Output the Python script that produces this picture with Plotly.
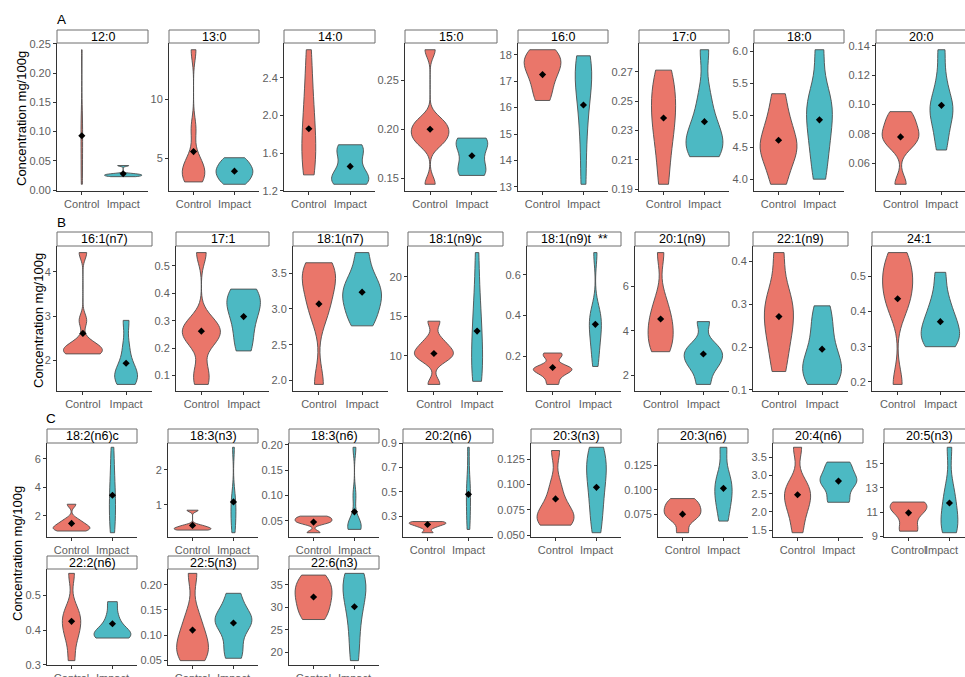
import numpy as np
import plotly.graph_objects as go

# ---------------- data ----------------
groups = ["Control", "Impact"]

names_a = ["12:0", "13:0", "14:0", "15:0", "16:0", "17:0", "18:0", "20:0"]
names_b = ["16:1(n7)", "17:1", "18:1(n7)", "18:1(n9)c", "18:1(n9)t  **", "20:1(n9)", "22:1(n9)", "24:1"]
names_c = ["18:2(n6)c", "18:3(n3)", "18:3(n6)", "20:2(n6)", "20:3(n3)", "20:3(n6)", "20:4(n6)", "20:5(n3)"]
names_d = ["22:2(n6)", "22:5(n3)", "22:6(n3)"]

# row A
ctrl_12_0 = [0.01, 0.03, 0.06, 0.09, 0.11, 0.12, 0.24]
imp_12_0 = [0.023, 0.024, 0.025, 0.026, 0.027, 0.028, 0.042]
ctrl_13_0 = [3.0, 3.3, 3.6, 4.0, 4.4, 5.0, 7.5, 14.2]
imp_13_0 = [2.8, 3.2, 3.6, 3.9, 4.2, 4.6, 5.05]
ctrl_14_0 = [1.37, 1.45, 1.6, 1.75, 1.9, 2.1, 2.35, 2.7]
imp_14_0 = [1.27, 1.29, 1.32, 1.36, 1.45, 1.6, 1.65, 1.69]
ctrl_15_0 = [0.144, 0.185, 0.19, 0.195, 0.2, 0.205, 0.21, 0.281]
imp_15_0 = [0.153, 0.156, 0.162, 0.175, 0.185, 0.189, 0.191]
ctrl_16_0 = [16.27, 16.7, 17.1, 17.4, 17.6, 17.8, 18.0, 18.19]
imp_16_0 = [13.1, 14.8, 16.0, 16.8, 17.3, 17.6, 17.96]
ctrl_17_0 = [0.1934, 0.215, 0.23, 0.24, 0.25, 0.26, 0.2711]
imp_17_0 = [0.2122, 0.215, 0.22, 0.225, 0.23, 0.24, 0.255, 0.285]
ctrl_18_0 = [3.92, 4.2, 4.4, 4.5, 4.6, 4.8, 5.0, 5.34]
imp_18_0 = [4.0, 4.4, 4.7, 4.95, 5.2, 5.3, 6.03]
ctrl_20_0 = [0.0458, 0.072, 0.076, 0.08, 0.084, 0.09, 0.0952]
imp_20_0 = [0.0691, 0.08, 0.09, 0.095, 0.1, 0.105, 0.118, 0.1373]

# row B
ctrl_16_1 = [2.15, 2.17, 2.2, 2.25, 2.3, 2.4, 2.9, 4.43]
imp_16_1 = [1.463, 1.55, 1.65, 1.75, 1.9, 2.3, 2.904]
ctrl_17_1 = [0.068, 0.12, 0.22, 0.24, 0.26, 0.28, 0.3, 0.548]
imp_17_1 = [0.19, 0.24, 0.3, 0.34, 0.37, 0.39, 0.415]
ctrl_18_1n7 = [1.945, 2.9, 3.1, 3.3, 3.45, 3.55, 3.646]
imp_18_1n7 = [2.764, 2.9, 3.05, 3.15, 3.25, 3.35, 3.5, 3.788]
ctrl_18_1n9c = [6.4, 9.5, 10.0, 10.5, 11.0, 12.0, 14.38]
imp_18_1n9c = [6.79, 7.5, 9.0, 11.0, 13.0, 15.0, 18.0, 23.04]
ctrl_18_1n9t = [0.062, 0.1, 0.125, 0.135, 0.14, 0.15, 0.2, 0.216]
imp_18_1n9t = [0.15, 0.22, 0.28, 0.32, 0.36, 0.4, 0.42, 0.709]
ctrl_20_1 = [3.07, 3.3, 3.7, 4.1, 4.4, 4.8, 5.4, 7.51]
imp_20_1 = [1.604, 2.3, 2.6, 2.9, 3.1, 3.4, 4.418]
ctrl_22_1 = [0.143, 0.2, 0.24, 0.27, 0.3, 0.33, 0.42]
imp_22_1 = [0.113, 0.13, 0.145, 0.16, 0.18, 0.22, 0.26, 0.296]
ctrl_24_1 = [0.193, 0.4, 0.44, 0.47, 0.5, 0.53, 0.567]
imp_24_1 = [0.3, 0.31, 0.33, 0.35, 0.37, 0.4, 0.44, 0.511]

# row C
ctrl_18_2n6c = [0.93, 1.0, 1.1, 1.2, 1.35, 1.5, 1.75, 2.81]
imp_18_2n6c = [0.81, 1.5, 2.5, 3.2, 4.0, 5.3, 6.81]
ctrl_18_3n3 = [0.283, 0.3, 0.33, 0.37, 0.42, 0.849]
imp_18_3n3 = [0.208, 0.5, 0.8, 1.0, 1.3, 2.64]
ctrl_18_3n6 = [0.0264, 0.045, 0.048, 0.052, 0.056, 0.0592]
imp_18_3n6 = [0.033, 0.035, 0.038, 0.042, 0.048, 0.1, 0.1954]
ctrl_20_2n6 = [0.164, 0.21, 0.23, 0.24, 0.25, 0.256]
imp_20_2n6 = [0.191, 0.3, 0.42, 0.5, 0.6, 0.867]
ctrl_20_3n3 = [0.0598, 0.062, 0.066, 0.07, 0.075, 0.085, 0.1, 0.1336]
imp_20_3n3 = [0.0523, 0.07, 0.085, 0.1, 0.11, 0.12, 0.128, 0.1368]
ctrl_20_3n6 = [0.0565, 0.07, 0.074, 0.078, 0.082, 0.087, 0.0911]
imp_20_3n6 = [0.0683, 0.085, 0.095, 0.105, 0.115, 0.1431]
ctrl_20_4n6 = [1.43, 1.9, 2.2, 2.4, 2.6, 2.8, 3.77]
imp_20_4n6 = [2.264, 2.3, 2.7, 2.8, 2.9, 3.0, 3.3, 3.364]
ctrl_20_5n3 = [9.41, 9.6, 10.8, 11.2, 11.5, 11.7, 11.83]
imp_20_5n3 = [9.28, 9.6, 10.2, 11.0, 12.0, 13.0, 16.38]

# row D
ctrl_22_2n6 = [0.312, 0.37, 0.4, 0.42, 0.44, 0.46, 0.563]
imp_22_2n6 = [0.377, 0.38, 0.385, 0.395, 0.41, 0.44, 0.4816]
ctrl_22_5n3 = [0.0493, 0.06, 0.075, 0.09, 0.11, 0.14, 0.2226]
imp_22_5n3 = [0.054, 0.08, 0.115, 0.125, 0.135, 0.15, 0.183]
ctrl_22_6n3 = [27.31, 29.0, 31.0, 32.5, 34.0, 35.5, 37.16]
imp_22_6n3 = [18.2, 24.0, 29.0, 32.5, 34.5, 36.3, 37.54]

# group means (black diamonds)
mean_ctrl_a = [0.093, 5.57, 1.86, 0.20, 17.25, 0.2385, 4.61, 0.078]
mean_imp_a = [0.028, 3.91, 1.46, 0.173, 16.1, 0.236, 4.93, 0.0995]
mean_ctrl_b = [2.61, 0.262, 3.07, 10.3, 0.145, 4.535, 0.271, 0.436]
mean_imp_b = [1.94, 0.315, 3.235, 13.13, 0.357, 2.967, 0.195, 0.371]
mean_ctrl_c = [1.465, 0.415, 0.0474, 0.232, 0.0857, 0.0753, 2.47, 10.93]
mean_imp_c = [3.44, 1.085, 0.0677, 0.48, 0.0972, 0.1015, 2.845, 11.75]
mean_ctrl_d = [0.425, 0.110, 32.31]
mean_imp_d = [0.418, 0.124, 30.15]

# y tick labels per panel
ticks_a = [["0.00", "0.05", "0.10", "0.15", "0.20", "0.25"], ["5", "10"], ["1.2", "1.6", "2.0", "2.4"],
           ["0.15", "0.20", "0.25"], ["13", "14", "15", "16", "17", "18"],
           ["0.19", "0.21", "0.23", "0.25", "0.27"], ["4.0", "4.5", "5.0", "5.5", "6.0"],
           ["0.06", "0.08", "0.10", "0.12", "0.14"]]
ticks_b = [["2", "3", "4"], ["0.1", "0.2", "0.3", "0.4", "0.5"], ["2.0", "2.5", "3.0", "3.5"],
           ["10", "15", "20"], ["0.2", "0.4", "0.6"], ["2", "4", "6"], ["0.1", "0.2", "0.3", "0.4"],
           ["0.2", "0.3", "0.4", "0.5"]]
ticks_c = [["2", "4", "6"], ["1", "2"], ["0.05", "0.10", "0.15", "0.20"], ["0.3", "0.5", "0.7", "0.9"],
           ["0.050", "0.075", "0.100", "0.125"], ["0.075", "0.100", "0.125"],
           ["1.5", "2.0", "2.5", "3.0", "3.5"], ["9", "11", "13", "15"]]
ticks_d = [["0.3", "0.4", "0.5"], ["0.05", "0.10", "0.15", "0.20"], ["20", "25", "30", "35"]]

ctrl_a = [ctrl_12_0, ctrl_13_0, ctrl_14_0, ctrl_15_0, ctrl_16_0, ctrl_17_0, ctrl_18_0, ctrl_20_0]
imp_a = [imp_12_0, imp_13_0, imp_14_0, imp_15_0, imp_16_0, imp_17_0, imp_18_0, imp_20_0]
ctrl_b = [ctrl_16_1, ctrl_17_1, ctrl_18_1n7, ctrl_18_1n9c, ctrl_18_1n9t, ctrl_20_1, ctrl_22_1, ctrl_24_1]
imp_b = [imp_16_1, imp_17_1, imp_18_1n7, imp_18_1n9c, imp_18_1n9t, imp_20_1, imp_22_1, imp_24_1]
ctrl_c = [ctrl_18_2n6c, ctrl_18_3n3, ctrl_18_3n6, ctrl_20_2n6, ctrl_20_3n3, ctrl_20_3n6, ctrl_20_4n6, ctrl_20_5n3]
imp_c = [imp_18_2n6c, imp_18_3n3, imp_18_3n6, imp_20_2n6, imp_20_3n3, imp_20_3n6, imp_20_4n6, imp_20_5n3]
ctrl_d = [ctrl_22_2n6, ctrl_22_5n3, ctrl_22_6n3]
imp_d = [imp_22_2n6, imp_22_5n3, imp_22_6n3]

# ---------------- layout geometry (pixels) ----------------
W, H = 965, 677
rows_px = {  # strip top, strip bottom, x-axis line
    "A": (30, 43, 191), "B": (232, 246, 391), "C": (429, 443, 537), "D": (556, 569, 665)}
cols_px = {
    "A": [(57, 148), (169, 259), (284, 375), (405, 497), (518, 608), (639, 729), (754, 844), (876, 966)],
    "B": [(57, 152), (176, 269), (293, 388), (408, 503), (527, 621), (635, 729), (753, 848), (872, 966)],
    "C": [(47, 137), (168, 258), (289, 379), (403, 493), (531, 621), (658, 748), (773, 863), (884, 974)],
    "D": [(47, 137), (168, 258), (289, 379)],
}

FONT = "Liberation Sans, Arial, Helvetica, sans-serif"
COL_CTRL = "#EA766A"
COL_IMP = "#4CB9C3"
OUTLINE = "#4d4d4d"
TICKCOL = "#5e5e5e"


def nrd0(x):
    x = np.asarray(x, float)
    n = len(x)
    hi = np.std(x, ddof=1)
    iqr = np.percentile(x, 75) - np.percentile(x, 25)
    lo = min(hi, iqr / 1.34)
    if lo == 0:
        lo = hi or abs(x[0]) or 1.0
    return 0.9 * lo * n ** (-0.2)


panels = []
for key, nm, cs, im, mc, mi, tk in [
        ("A", names_a, ctrl_a, imp_a, mean_ctrl_a, mean_imp_a, ticks_a),
        ("B", names_b, ctrl_b, imp_b, mean_ctrl_b, mean_imp_b, ticks_b),
        ("C", names_c, ctrl_c, imp_c, mean_ctrl_c, mean_imp_c, ticks_c),
        ("D", names_d, ctrl_d, imp_d, mean_ctrl_d, mean_imp_d, ticks_d)]:
    for j in range(len(nm)):
        panels.append(dict(row=key, col=j, name=nm[j], ctrl=cs[j], imp=im[j],
                           mc=mc[j], mi=mi[j], ticks=tk[j]))

fig = go.Figure()
layout = dict(width=W, height=H, margin=dict(l=0, r=0, t=0, b=0, autoexpand=False),
              paper_bgcolor="white", plot_bgcolor="white", showlegend=False,
              violinmode="overlay", violingap=0.1, violingroupgap=0,
              font=dict(family=FONT, size=11, color=TICKCOL))
shapes = []
annotations = []

for k, p in enumerate(panels, start=1):
    st, sb, ax = rows_px[p["row"]]
    x0, x1 = cols_px[p["row"]][p["col"]]
    full = x1 - x0
    vis_x1 = min(x1, W)
    cropped = x1 > W
    xr_hi = -0.6 + 2.2 * (vis_x1 - x0) / full
    xs = "" if k == 1 else str(k)

    allv = p["ctrl"] + p["imp"]
    lo, hi = min(allv), max(allv)
    pad = 0.05 * (hi - lo)

    layout["xaxis" + xs] = dict(
        domain=[x0 / W, vis_x1 / W], anchor="y" + xs, range=[-0.6, xr_hi],
        tickmode="array", tickvals=[0, 1], ticktext=groups, showgrid=False, zeroline=False,
        showline=True, linecolor="#333333", linewidth=1, ticks="outside", ticklen=3,
        tickcolor="#333333", ticklabeloverflow="allow", showticklabels=not cropped,
        tickfont=dict(family=FONT, size=11, color=TICKCOL), fixedrange=True)
    layout["yaxis" + xs] = dict(
        domain=[1 - ax / H, 1 - sb / H], anchor="x" + xs, range=[lo - pad, hi + pad],
        tickmode="array", tickvals=[float(t) for t in p["ticks"]], ticktext=p["ticks"],
        showgrid=False, zeroline=False, showline=True, linecolor="#333333", linewidth=1,
        ticks="outside", ticklen=3, tickcolor="#333333", ticklabeloverflow="allow",
        tickfont=dict(family=FONT, size=11, color=TICKCOL), fixedrange=True)

    if cropped:
        # panel cut by the right edge: its group labels are written as paper text
        for pos, g in enumerate(groups):
            cx = x0 + (pos + 0.6) / 2.2 * full
            cx = min(cx, W - 24)
            annotations.append(dict(xref="paper", yref="paper", x=cx / W, y=1 - (ax + 13) / H,
                                    text=g, showarrow=False, xanchor="center", yanchor="middle",
                                    borderpad=0,
                                    font=dict(family=FONT, size=11, color=TICKCOL)))

    for pos, vals, col in [(0, p["ctrl"], COL_CTRL), (1, p["imp"], COL_IMP)]:
        fig.add_trace(go.Violin(
            x=[pos] * len(vals), y=vals, xaxis="x" + xs, yaxis="y" + xs,
            spanmode="hard", bandwidth=nrd0(vals),
            scalegroup="g%d" % k, scalemode="width",
            fillcolor=col, opacity=1, line=dict(color=OUTLINE, width=0.9),
            points=False, box_visible=False, meanline_visible=False,
            hoverinfo="skip", showlegend=False))
    fig.add_trace(go.Scatter(
        x=[0, 1], y=[p["mc"], p["mi"]], xaxis="x" + xs, yaxis="y" + xs, mode="markers",
        marker=dict(symbol="diamond", size=5.5, color="black"), hoverinfo="skip", showlegend=False))

    # facet strip
    shapes.append(dict(type="rect", xref="paper", yref="paper",
                       x0=x0 / W, x1=min(x1 / W, 1.0 + 4.0 / W), y0=1 - sb / H, y1=1 - st / H,
                       line=dict(color="#6e6e6e", width=1), fillcolor="white", layer="above"))
    annotations.append(dict(xref="paper", yref="paper", x=(x0 + x1) / 2 / W,
                            y=1 - (st + sb) / 2 / H, text=p["name"], showarrow=False,
                            xanchor="center", yanchor="middle",
                            font=dict(family=FONT, size=12.5, color="black")))

# panel tags
for lab, px, py in [("A", 61, 20), ("B", 61, 222), ("C", 51, 418)]:
    annotations.append(dict(xref="paper", yref="paper", x=px / W, y=1 - py / H, text=lab,
                            showarrow=False, xanchor="center", yanchor="middle",
                            font=dict(family=FONT, size=13.5, color="black")))
# y titles
for px, py in [(22, 119), (38, 321), (17, 554)]:
    annotations.append(dict(xref="paper", yref="paper", x=px / W, y=1 - py / H,
                            text="Concentration mg/100g", textangle=-90, showarrow=False,
                            xanchor="center", yanchor="middle",
                            font=dict(family=FONT, size=13, color="black")))

layout["shapes"] = shapes
layout["annotations"] = annotations
fig.update_layout(**layout)

fig.write_html("out.html", include_plotlyjs=True, config={"displayModeBar": False},
               post_script="document.body.style.margin='0';document.body.style.overflow='hidden';")
